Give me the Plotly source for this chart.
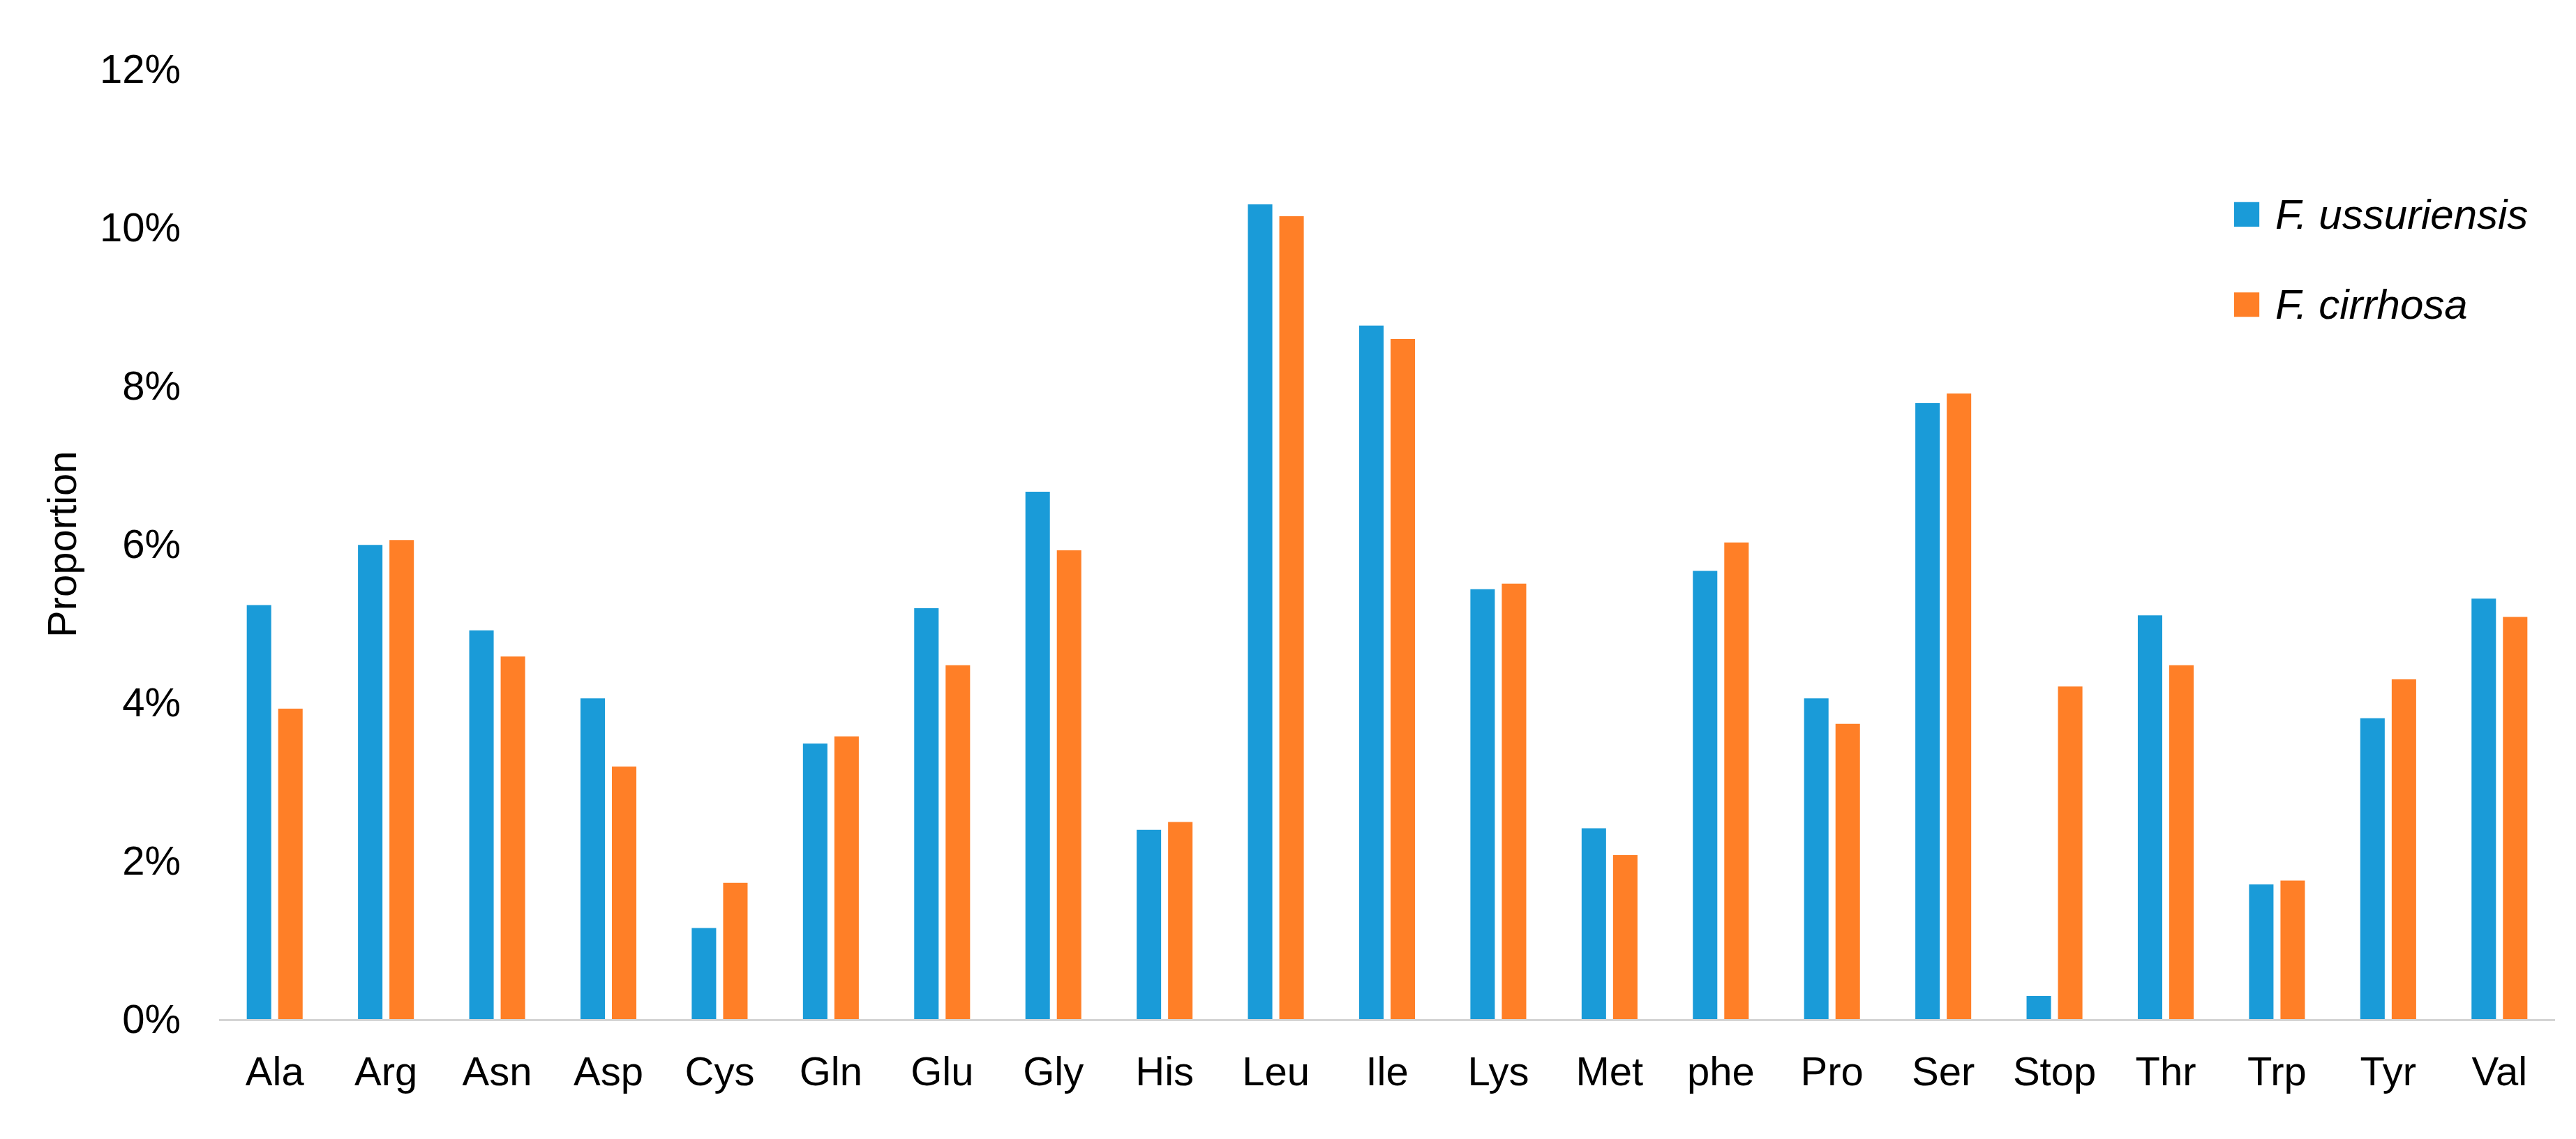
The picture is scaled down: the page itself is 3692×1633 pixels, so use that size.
import plotly.graph_objects as go

# amino acid usage (proportion of codons)
amino_acids = ["Ala", "Arg", "Asn", "Asp", "Cys", "Gln", "Glu", "Gly", "His", "Leu", "Ile",
               "Lys", "Met", "phe", "Pro", "Ser", "Stop", "Thr", "Trp", "Tyr", "Val"]
ussuriensis = [5.23, 5.99, 4.91, 4.05, 1.15, 3.48, 5.19, 6.66, 2.39, 10.29, 8.76,
               5.43, 2.41, 5.66, 4.05, 7.78, 0.29, 5.10, 1.70, 3.80, 5.31]
cirrhosa = [3.92, 6.05, 4.58, 3.19, 1.72, 3.57, 4.47, 5.92, 2.49, 10.14, 8.59,
            5.50, 2.07, 6.02, 3.73, 7.90, 4.20, 4.47, 1.75, 4.29, 5.08]
series_names = ["F. ussuriensis", "F. cirrhosa"]
y_ticks = [0, 0.02, 0.04, 0.06, 0.08, 0.10, 0.12]

BLUE = "#1A9BD8"
ORANGE = "#FF7F27"
FONT = "Arial, Liberation Sans, sans-serif"

fig = go.Figure()
fig.add_trace(go.Bar(x=amino_acids, y=[v / 100 for v in ussuriensis],
                     name=series_names[0], marker_color=BLUE, marker_line_width=0))
fig.add_trace(go.Bar(x=amino_acids, y=[v / 100 for v in cirrhosa],
                     name=series_names[1], marker_color=ORANGE, marker_line_width=0))

fig.update_layout(
    width=3692, height=1633,
    margin=dict(l=306, r=38, t=91, b=180),
    paper_bgcolor="white", plot_bgcolor="white",
    barmode="group", bargap=0.435, bargroupgap=0.222,
    showlegend=False,
    font=dict(family=FONT, size=58, color="black"),
)
fig.update_xaxes(showgrid=False, showline=True, linecolor="#D4D4D4", linewidth=3,
                 ticks="", ticklabelstandoff=22, tickfont=dict(size=58))
fig.update_yaxes(range=[0, 0.12], tickvals=y_ticks, tickformat=".0%", showgrid=False,
                 zeroline=False, showline=False, ticks="", ticklabelstandoff=54,
                 tickfont=dict(size=58))

# y-axis title
fig.add_annotation(text="Proportion", textangle=-90, xref="paper", yref="paper",
                   x=0, y=0.5, xanchor="center", yanchor="middle", xshift=-226,
                   showarrow=False, font=dict(size=58))

# legend with large square keys
legend_rows = [(series_names[0], BLUE, 0.847), (series_names[1], ORANGE, 0.752)]
for name, color, yc in legend_rows:
    fig.add_shape(type="rect", xref="paper", yref="paper",
                  x0=0.8626, x1=0.8734, y0=yc - 0.0129, y1=yc + 0.0129,
                  fillcolor=color, line_width=0)
    fig.add_annotation(text="<i>" + name + "</i>", xref="paper", yref="paper",
                       x=0.8795, y=yc, xanchor="left", yanchor="middle",
                       showarrow=False, font=dict(size=60))

fig.write_html("out.html")
